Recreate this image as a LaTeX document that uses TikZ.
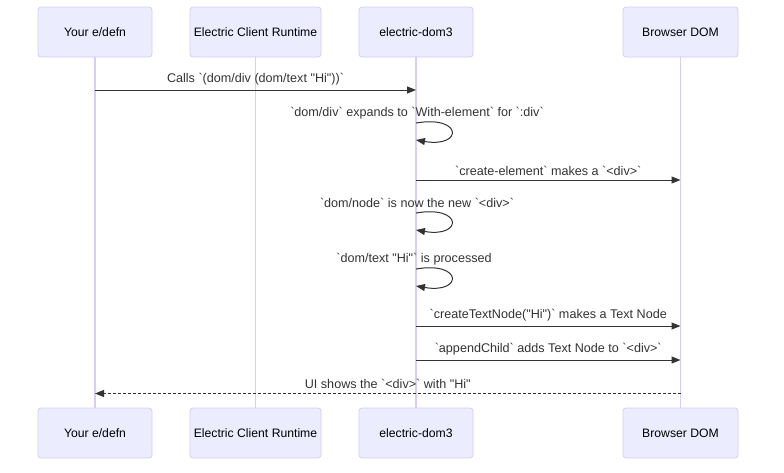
\documentclass[tikz,border=0pt]{standalone}
\usepackage{fontspec}
\setmainfont{Liberation Sans}[Ligatures=TeXOff]
\usetikzlibrary{arrows.meta}
\definecolor{actfill}{HTML}{ECECFF}
\definecolor{actline}{HTML}{D6CCF2}
\definecolor{lifeln}{HTML}{D9CDF5}
\definecolor{msgcol}{HTML}{333333}
\newcommand{\bq}{\symbol{96}}
\begin{document}
\begin{tikzpicture}[x=1pt,y=-1pt,
  actor/.style={draw=actline,fill=actfill,rounded corners=3pt,minimum height=50pt,inner sep=0pt,font=\fontsize{12.2}{14}\selectfont,text=black,line width=0.8pt},
  life/.style={draw=lifeln,line width=1.2pt},
  msg/.style={draw=msgcol,line width=1pt,-{Triangle[length=9pt,width=7pt]}},
  dmsg/.style={msg,dash pattern=on 3pt off 2pt},
  lbl/.style={font=\fontsize{12.6}{14}\selectfont,text=msgcol,inner sep=0pt}]
\useasboundingbox (0,0) rectangle (784,472);
% actors top
\node[actor,minimum width=114pt] (tA) at (95,32) {Your e/defn};
\node[actor,minimum width=131pt] (tB) at (255.5,32) {Electric Client Runtime};
\node[actor,minimum width=114pt] (tC) at (416,32) {electric-dom3};
\node[actor,minimum width=115pt] (tD) at (680.5,32) {Browser DOM};
% actors bottom
\node[actor,minimum width=114pt] (bA) at (95,433) {Your e/defn};
\node[actor,minimum width=131pt] (bB) at (255.5,433) {Electric Client Runtime};
\node[actor,minimum width=114pt] (bC) at (416,433) {electric-dom3};
\node[actor,minimum width=115pt] (bD) at (680.5,433) {Browser DOM};
% lifelines
\draw[life] (tA.south) -- (bA.north);
\draw[life] (tB.south) -- (bB.north);
\draw[life] (tC.south) -- (bC.north);
\draw[life] (tD.south) -- (bD.north);
% y levels
\coordinate (y1) at (0,90);
\coordinate (y2a) at (0,123);
\coordinate (y2b) at (0,140);
\coordinate (y3) at (0,180);
\coordinate (y4a) at (0,213);
\coordinate (y4b) at (0,230);
\coordinate (y5a) at (0,269);
\coordinate (y5b) at (0,286);
\coordinate (y6) at (0,326);
\coordinate (y7) at (0,360);
\coordinate (y8) at (0,393.5);
% messages
\draw[msg] (tA |- y1) -- node[lbl,above=4pt] (l1) {Calls \bq(dom/div (dom/text "Hi"))\bq} (tC |- y1);
\node[lbl] (l2) at (417,113) {\bq dom/div\bq\ expands to \bq With-element\bq\ for \bq:div\bq};
\draw[msg] (tC |- y2a) .. controls ++(47,-8) and ++(47,8) .. (tC |- y2b);
\draw[msg] (tC |- y3) -- node[lbl,above=4pt] (l3) {\bq create-element\bq\ makes a \bq<div>\bq} (tD |- y3);
\node[lbl] (l4) at (417,203) {\bq dom/node\bq\ is now the new \bq<div>\bq};
\draw[msg] (tC |- y4a) .. controls ++(47,-8) and ++(47,8) .. (tC |- y4b);
\node[lbl] (l5) at (414,259) {\bq dom/text "Hi"\bq\ is processed};
\draw[msg] (tC |- y5a) .. controls ++(47,-8) and ++(47,8) .. (tC |- y5b);
\draw[msg] (tC |- y6) -- node[lbl,above=4pt] (l6) {\bq createTextNode("Hi")\bq\ makes a Text Node} (tD |- y6);
\draw[msg] (tC |- y7) -- node[lbl,above=4pt] (l7) {\bq appendChild\bq\ adds Text Node to \bq<div>\bq} (tD |- y7);
\draw[dmsg] (tD |- y8) -- node[lbl,above=4pt] (l8) {UI shows the \bq<div>\bq\ with "Hi"} (tA |- y8);
\end{tikzpicture}
\end{document}
